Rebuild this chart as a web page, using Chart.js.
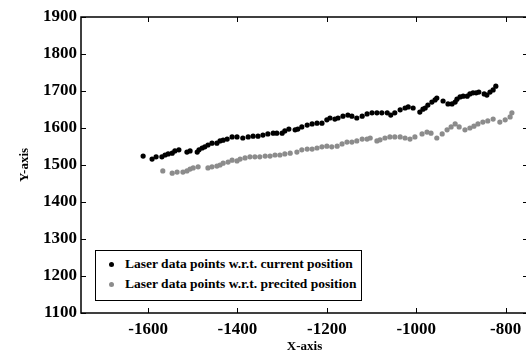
<!DOCTYPE html>
<html>
<head>
<meta charset="utf-8">
<script src="https://cdn.jsdelivr.net/npm/chart.js@4.4.1/dist/chart.umd.min.js"></script>
<style>
  html, body { margin: 0; padding: 0; background: #fff; overflow: hidden; }
  #wrap { position: relative; width: 526px; height: 354px; overflow: hidden; }
  #chart { position: absolute; left: 0; top: 0; }
  #legend {
    position: absolute; left: 95px; top: 250px; width: 265px; height: 49px;
    border: 1.5px solid #000; background: #fff;
    font: bold 13.5px "Liberation Serif", "Times New Roman", serif; color: #000;
  }
  #legend div { position: absolute; left: 29px; white-space: nowrap; }
  #legend span { position: absolute; left: -16px; top: 6px; width: 5px; height: 5px; border-radius: 50%; }
</style>
</head>
<body>
<div id="wrap">
  <canvas id="chart" width="532" height="354"></canvas>
  <div id="legend">
    <div style="top:5px"><span style="background:#000"></span>Laser data points w.r.t. current position</div>
    <div style="top:25px"><span style="background:#8c8c8c"></span>Laser data points w.r.t. precited position</div>
  </div>
</div>
<script>
// values
var xTicks = [-1600, -1400, -1200, -1000, -800];
var yTicks = [1100, 1200, 1300, 1400, 1500, 1600, 1700, 1800, 1900];

var currentX = [-1611,-1591,-1582,-1569,-1562,-1555,-1546,-1540,-1531,-1513,-1506,-1490,-1486,-1479,-1473,-1466,-1457,-1446,-1439,-1432,-1423,-1412,
  -1401,-1388,-1376,-1365,-1354,-1343,-1332,-1320,-1312,-1300,-1294,-1285,-1271,-1265,-1256,-1244,-1233,-1222,-1211,-1200,-1193,-1182,-1175,
  -1164,-1153,-1144,-1133,-1121,-1110,-1099,-1088,-1077,-1065,-1057,-1048,-1036,-1025,-1018,-1007,-992,-985,-980,-974,-965,-958,-954,-940,
  -929,-920,-913,-909,-902,-895,-886,-880,-873,-866,-860,-848,-842,-835,-828,-822];
var currentY = [1524,1516,1522,1522,1527,1530,1532,1538,1541,1535,1538,1535,1541,1546,1549,1554,1559,1559,1565,1567,1570,1576,
  1576,1573,1576,1578,1578,1581,1584,1586,1586,1586,1592,1597,1595,1597,1603,1608,1611,1613,1613,1622,1627,1624,1627,
  1632,1635,1632,1627,1632,1638,1641,1641,1641,1641,1635,1641,1649,1654,1657,1654,1643,1651,1654,1662,1670,1676,1681,1673,
  1665,1665,1670,1678,1684,1686,1686,1692,1695,1695,1697,1692,1689,1697,1703,1713];

var predX = [-1567,-1546,-1535,-1522,-1513,-1506,-1499,-1488,-1466,-1457,-1446,-1439,-1432,-1421,-1412,-1401,-1394,-1383,-1372,-1361,
  -1350,-1338,-1327,-1316,-1305,-1294,-1282,-1267,-1256,-1244,-1233,-1222,-1211,-1200,-1189,-1177,-1166,-1155,-1144,-1133,-1121,-1110,
  -1103,-1088,-1081,-1070,-1059,-1048,-1036,-1025,-1014,-1003,-987,-976,-967,-954,-942,-931,-922,-913,-904,-891,-880,-871,-862,-851,
  -840,-828,-813,-801,-790,-786];
var predY = [1484,1478,1481,1481,1484,1489,1492,1495,1492,1495,1497,1500,1505,1508,1513,1511,1516,1519,1522,1522,
  1522,1524,1524,1527,1527,1530,1532,1535,1541,1543,1543,1546,1549,1551,1549,1551,1557,1562,1562,1565,1570,1570,
  1573,1565,1568,1573,1576,1576,1576,1573,1570,1576,1584,1589,1586,1573,1584,1595,1603,1611,1603,1595,1600,1605,1611,1616,
  1619,1624,1616,1622,1630,1641];

function pts(xs, ys) {
  return xs.map((v, i) => ({x: v, y: ys[i]}));
}

var serif = '"Liberation Serif", "Times New Roman", serif';

// box round the plot with ticks pointing inward
const frameTicks = {
  id: 'frameTicks',
  afterDatasetsDraw(chart) {
    const ctx = chart.ctx, a = chart.chartArea;
    const x = chart.scales.x, y = chart.scales.y;
    ctx.save();
    ctx.strokeStyle = '#000';
    ctx.lineWidth = 1.5;
    ctx.strokeRect(a.left, a.top, a.right - a.left, a.bottom - a.top);
    ctx.lineWidth = 1;
    ctx.beginPath();
    x.ticks.forEach(t => {
      const p = Math.round(x.getPixelForValue(t.value)) + 0.5;
      ctx.moveTo(p, a.bottom); ctx.lineTo(p, a.bottom - 5);
      ctx.moveTo(p, a.top); ctx.lineTo(p, a.top + 5);
    });
    y.ticks.forEach(t => {
      const p = Math.round(y.getPixelForValue(t.value)) + 0.5;
      ctx.moveTo(a.left, p); ctx.lineTo(a.left + 5, p);
      ctx.moveTo(a.right, p); ctx.lineTo(a.right - 5, p);
    });
    ctx.stroke();
    ctx.restore();
  }
};

new Chart(document.getElementById('chart'), {
  type: 'scatter',
  data: {
    datasets: [
      {
        label: 'Laser data points w.r.t. current position',
        data: pts(currentX, currentY),
        pointRadius: 2.6,
        pointBorderWidth: 0,
        backgroundColor: '#000',
        borderColor: '#000'
      },
      {
        label: 'Laser data points w.r.t. precited position',
        data: pts(predX, predY),
        pointRadius: 2.6,
        pointBorderWidth: 0,
        backgroundColor: '#8c8c8c',
        borderColor: '#8c8c8c'
      }
    ]
  },
  options: {
    responsive: false,
    animation: false,
    devicePixelRatio: 1,
    layout: { padding: { top: 17, right: 4, left: 0, bottom: 0 } },
    plugins: {
      legend: { display: false },
      tooltip: { enabled: false }
    },
    scales: {
      x: {
        type: 'linear',
        min: -1750,
        max: -750,
        afterBuildTicks: (s) => { s.ticks = xTicks.map(v => ({value: v})); },
        afterFit: (s) => { s.height = 41; },
        grid: { display: false, drawTicks: false },
        border: { display: false },
        ticks: { color: '#000', padding: 6, callback: (v) => String(v),
                 font: { family: serif, size: 17, weight: 'bold' } },
        title: { display: true, text: 'X-axis', color: '#000', padding: { top: 0, bottom: 0 },
                 font: { family: serif, size: 13, weight: 'bold' } }
      },
      y: {
        type: 'linear',
        min: 1100,
        max: 1900,
        afterBuildTicks: (s) => { s.ticks = yTicks.map(v => ({value: v})); },
        afterFit: (s) => { s.width = 81; },
        grid: { display: false, drawTicks: false },
        border: { display: false },
        ticks: { color: '#000', padding: 4, callback: (v) => String(v),
                 font: { family: serif, size: 17, weight: 'bold' } },
        title: { display: true, text: 'Y-axis', color: '#000', padding: { top: 17, bottom: 0 },
                 font: { family: serif, size: 13, weight: 'bold' } }
      }
    }
  },
  plugins: [frameTicks]
});
</script>
</body>
</html>
